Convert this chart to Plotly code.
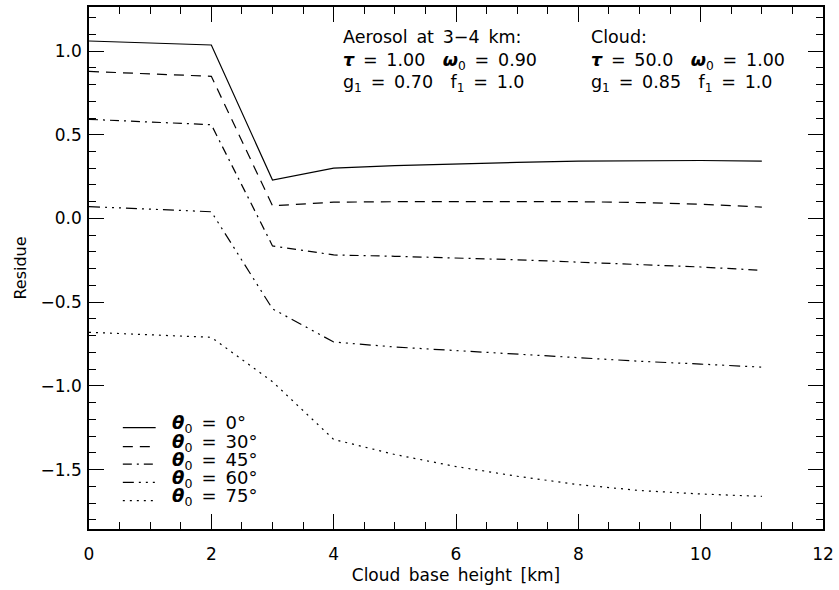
import plotly.graph_objects as go

# ---------------- data ----------------
heights = [0, 2, 3, 4, 5, 6, 7, 8, 9, 10, 11]
res_0 = [1.06, 1.036, 0.229, 0.300, 0.315, 0.326, 0.335, 0.342, 0.346, 0.346, 0.342]
res_30 = [0.878, 0.849, 0.076, 0.097, 0.100, 0.101, 0.101, 0.100, 0.095, 0.085, 0.068]
res_45 = [0.592, 0.560, -0.164, -0.218, -0.226, -0.236, -0.247, -0.261, -0.275, -0.290, -0.310]
res_60 = [0.071, 0.040, -0.540, -0.738, -0.768, -0.790, -0.812, -0.835, -0.853, -0.870, -0.888]
res_75 = [-0.680, -0.710, -0.975, -1.320, -1.410, -1.482, -1.540, -1.590, -1.625, -1.646, -1.660]

series = [
    ("0°", res_0, "solid"),
    ("30°", res_30, "10px,7px"),
    ("45°", res_45, "9px,5px,2px,5px"),
    ("60°", res_60, "11px,5px,2px,5px,2px,5px,2px,5px"),
    ("75°", res_75, "2px,5px"),
]

x_ticks = [0, 2, 4, 6, 8, 10, 12]
y_ticks = [-1.5, -1.0, -0.5, 0.0, 0.5, 1.0]
y_ticklabels = ["\u22121.5", "\u22121.0", "\u22120.5", "0.0", "0.5", "1.0"]

FONT = "DejaVu Sans"
SP = "\u2002"

fig = go.Figure()
for name, vals, dash in series:
    fig.add_trace(go.Scatter(
        x=heights, y=vals, mode="lines", name=name, showlegend=False,
        line=dict(color="black", width=1.2, dash=dash),
    ))

# manual legend (tight IDL style)
leg_rows = [-1.25, -1.363, -1.468, -1.577, -1.686]
for (name, vals, dash), yr in zip(series, leg_rows):
    fig.add_shape(type="line", x0=0.553, x1=1.09, y0=yr, y1=yr, xref="x", yref="y",
                  line=dict(color="black", width=1.2, dash=dash))
    fig.add_annotation(
        x=1.32, y=yr + 0.02, xref="x", yref="y", xanchor="left", yanchor="middle",
        showarrow=False,
        text=f"<b><i>θ</i></b><sub>0</sub>{SP}={SP}{name}",
        font=dict(family=FONT, size=18, color="black"),
    )

def txt(x, y, s):
    fig.add_annotation(x=x, y=y, xref="x", yref="y", xanchor="left", yanchor="middle",
                       showarrow=False, text=s,
                       font=dict(family=FONT, size=17.5, color="black"))

txt(4.12, 1.082, f"Aerosol{SP}at{SP}3\u22124{SP}km:")
txt(4.12, 0.939, f"<b><i>τ</i></b>{SP}={SP}1.00{SP}{SP}<b><i>ω</i></b><sub>0</sub>{SP}={SP}0.90")
txt(4.12, 0.808, f"g<sub>1</sub>{SP}={SP}0.70{SP}{SP}f<sub>1</sub>{SP}={SP}1.0")
txt(8.17, 1.082, "Cloud:")
txt(8.17, 0.939, f"<b><i>τ</i></b>{SP}={SP}50.0{SP}{SP}<b><i>ω</i></b><sub>0</sub>{SP}={SP}1.00")
txt(8.17, 0.808, f"g<sub>1</sub>{SP}={SP}0.85{SP}{SP}f<sub>1</sub>{SP}={SP}1.0")

axis_common = dict(
    showgrid=False, zeroline=False, showline=True, linecolor="black", linewidth=1.5,
    ticks="inside", ticklen=15, tickwidth=1.2, tickcolor="black", mirror="allticks",
    tickfont=dict(family=FONT, size=17, color="black"),
)
fig.update_xaxes(
    range=[0, 12], tickvals=x_ticks, ticktext=[str(v) for v in x_ticks],
    minor=dict(dtick=0.5, ticklen=7, tickwidth=1.2, tickcolor="black", ticks="inside"),
    title=dict(text=f"Cloud{SP}base{SP}height{SP}[km]", font=dict(family=FONT, size=17, color="black"), standoff=6),
    ticklabelstandoff=9,
    **axis_common,
)
fig.update_yaxes(
    range=[-1.855, 1.263], tickvals=y_ticks, ticktext=y_ticklabels,
    minor=dict(tick0=0, dtick=0.1, ticklen=7, tickwidth=1.2, tickcolor="black", ticks="inside"),
    title=dict(text="Residue", font=dict(family=FONT, size=16, color="black"), standoff=10),
    ticklabelstandoff=2,
    **axis_common,
)
fig.update_layout(
    width=839, height=590,
    margin=dict(l=89, r=12, t=5, b=61),
    paper_bgcolor="white", plot_bgcolor="white",
    font=dict(family=FONT, color="black"),
)
fig.write_html("out.html")
